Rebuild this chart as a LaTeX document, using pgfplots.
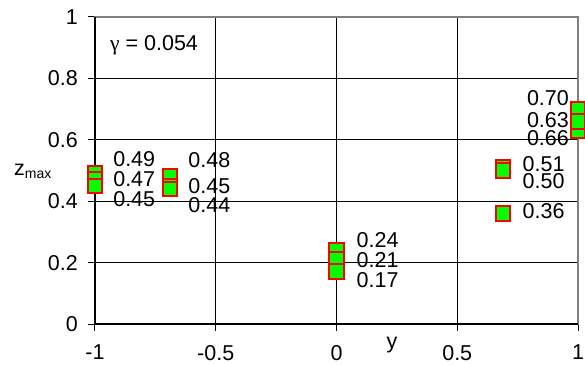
\documentclass[border=0pt]{standalone}
\usepackage{fontspec}
\setmainfont{Liberation Sans}
\newfontfamily\greekfont{Liberation Serif}
\usepackage{pgfplots}
\pgfplotsset{compat=1.18}
\definecolor{frame}{RGB}{128,128,128}
\begin{document}
\begin{tikzpicture}
\begin{axis}[
    scale only axis,
    width=483pt, height=307pt,
    xmin=-1, xmax=1,
    ymin=0, ymax=1,
    xtick={-1,-0.5,0,0.5,1},
    ytick={0,0.2,0.4,0.6,0.8,1},
    grid=major,
    major grid style={black, line width=0.8pt},
    axis line style={frame, line width=2pt},
    tick align=outside,
    tick pos=left,
    major tick length=7pt,
    tick style={black, line width=1pt},
    font=\fontsize{21.5}{25}\selectfont,
    tick label style={font=\fontsize{21.5}{25}\selectfont},
    /pgf/number format/assume math mode=true,
    xticklabel style={anchor=north, inner sep=0pt, yshift=-14pt},
    yticklabel style={anchor=east, inner sep=0pt, xshift=-10pt},
    clip=false,
]
% black left and bottom axis lines
\draw[black, line width=2pt] (rel axis cs:0,1) -- (rel axis cs:0,0) -- (rel axis cs:1,0);

\addplot[only marks, mark=square*, mark size=7.35pt,
    mark options={draw=red, fill=green, line width=2pt}]
    coordinates {(-1,0.49)(-0.69,0.48)(0,0.24)(0.69,0.51)(1,0.70)};
\addplot[only marks, mark=square*, mark size=7.35pt,
    mark options={draw=red, fill=green, line width=2pt}]
    coordinates {(-1,0.47)(-0.69,0.45)(0,0.21)(0.69,0.50)(1,0.63)};
\addplot[only marks, mark=square*, mark size=7.35pt,
    mark options={draw=red, fill=green, line width=2pt}]
    coordinates {(-1,0.45)(-0.69,0.44)(0,0.17)(0.69,0.36)(1,0.66)};

% value labels
\begin{scope}[every node/.style={inner sep=0pt, font=\fontsize{21.5}{25}\selectfont}]
\node[anchor=west] at (axis cs:-0.925,0.536) {0.49};
\node[anchor=west] at (axis cs:-0.925,0.471) {0.47};
\node[anchor=west] at (axis cs:-0.925,0.406) {0.45};
\node[anchor=west] at (axis cs:-0.614,0.533) {0.48};
\node[anchor=west] at (axis cs:-0.614,0.450) {0.45};
\node[anchor=west] at (axis cs:-0.614,0.386) {0.44};
\node[anchor=west] at (axis cs:0.083,0.272) {0.24};
\node[anchor=west] at (axis cs:0.083,0.207) {0.21};
\node[anchor=west] at (axis cs:0.083,0.142) {0.17};
\node[anchor=west] at (axis cs:0.770,0.520) {0.51};
\node[anchor=west] at (axis cs:0.770,0.467) {0.50};
\node[anchor=west] at (axis cs:0.770,0.368) {0.36};
\node[anchor=east] at (axis cs:0.963,0.735) {0.70};
\node[anchor=east] at (axis cs:0.963,0.664) {0.63};
\node[anchor=east] at (axis cs:0.963,0.604) {0.66};
\node[anchor=base west] at (axis cs:-0.938,0.8925) {{\greekfont γ} = 0.054};
\node[anchor=base] at (axis cs:0.23,-0.0814) {y};
\node[anchor=west] at ([xshift=-81pt]axis cs:-1,0.498) {z\textsubscript{\fontsize{14}{16}\selectfont max}};
\end{scope}
\end{axis}
\pgfresetboundingbox
\path[use as bounding box] ([shift={(-95pt,-40pt)}]current axis.south west) rectangle ++(585pt,364pt);
\end{tikzpicture}
\end{document}
